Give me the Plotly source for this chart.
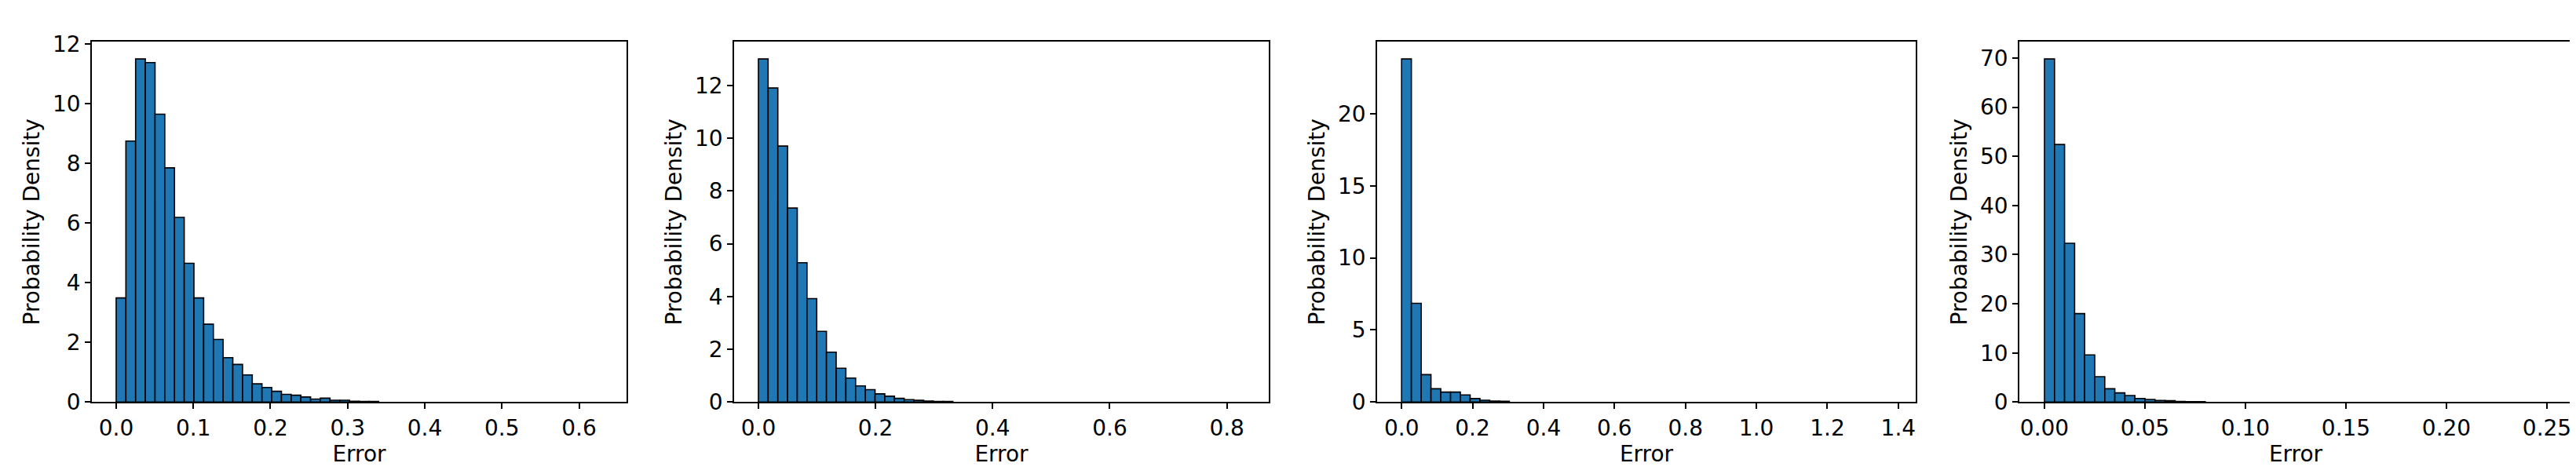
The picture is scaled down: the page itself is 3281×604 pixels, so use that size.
import plotly.graph_objects as go

W, H = 3281, 604
n_bins = 50

max1 = 0.63
dens1 = [3.49, 8.75, 11.5, 11.38, 9.65, 7.85, 6.19, 4.65, 3.49, 2.61, 2.10, 1.49, 1.26, 0.91, 0.61,
         0.49, 0.36, 0.26, 0.23, 0.17, 0.10, 0.13, 0.06, 0.06, 0.03, 0.02, 0.02]
max2 = 0.83
dens2 = [13.0, 11.9, 9.7, 7.35, 5.28, 3.92, 2.68, 1.89, 1.28, 0.91, 0.61, 0.47, 0.31, 0.22, 0.14,
         0.09, 0.066, 0.04, 0.02, 0.02]
max3 = 1.38
dens3 = [23.8, 6.85, 1.9, 0.92, 0.69, 0.69, 0.49, 0.24, 0.13, 0.07, 0.05]
max4 = 0.25
dens4 = [69.8, 52.4, 32.3, 18.0, 9.6, 5.15, 2.7, 1.86, 1.33, 0.74, 0.53, 0.32, 0.27, 0.12, 0.1, 0.08]

panels = [
    (max1, dens1, 0.1, ".1f", 2),
    (max2, dens2, 0.2, ".1f", 2),
    (max3, dens3, 0.2, ".1f", 5),
    (max4, dens4, 0.05, ".2f", 10),
]
xpix = [(109, 790), (927, 1608), (1746, 2432), (2564, 3268)]
ytop, ybot = 34, 517

fig = go.Figure()
FS = 28
font = dict(family="DejaVu Sans", size=FS, color="black")
layout = dict(width=W, height=H, margin=dict(l=0, r=0, t=0, b=0),
              paper_bgcolor="white", plot_bgcolor="white", showlegend=False, font=font)
for i, (mx, dens, dt, fmt, ydt) in enumerate(panels):
    w = mx / n_bins
    centers = [w * (k + 0.5) for k in range(len(dens))]
    sfx = "" if i == 0 else str(i + 1)
    fig.add_trace(go.Bar(x=centers, y=dens, width=w, marker=dict(color="#1f77b4",
                  line=dict(color="black", width=1.6)), xaxis="x" + sfx, yaxis="y" + sfx))
    x0, x1 = xpix[i]
    ax = dict(showline=True, linecolor="black", linewidth=1.5, mirror=True, ticks="outside",
              ticklen=7, tickwidth=1.5, tickcolor="black", showgrid=False, zeroline=False,
              tickfont=dict(size=FS))
    layout["xaxis" + sfx] = dict(ax, domain=[x0 / W, x1 / W], anchor="y" + sfx,
                                 range=[-0.05 * mx, 1.05 * mx], dtick=dt, tick0=0, tickformat=fmt,
                                 title=dict(text="Error", font=dict(size=FS), standoff=4))
    layout["yaxis" + sfx] = dict(ax, domain=[1 - ybot / H, 1 - ytop / H], anchor="x" + sfx,
                                 range=[0, max(dens) * 1.05], dtick=ydt, tick0=0,
                                 title=dict(text="Probability Density", font=dict(size=FS), standoff=8))
fig.update_layout(**layout)
fig.write_html("out.html")
